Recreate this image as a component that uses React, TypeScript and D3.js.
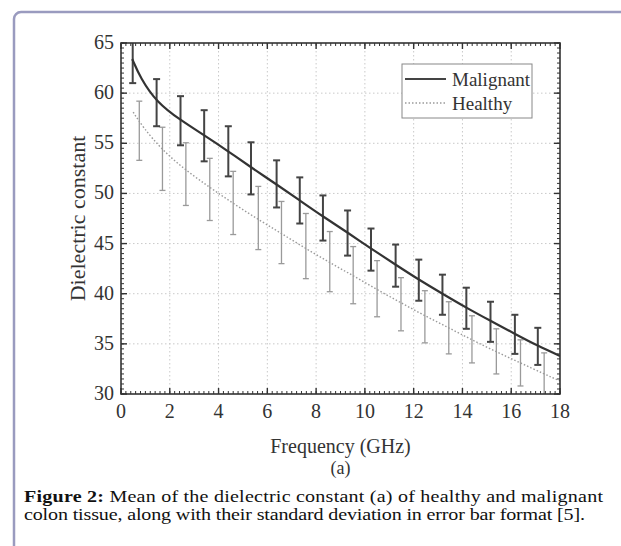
import React from "react";
import * as d3 from "d3";

const xTicks = [0, 2, 4, 6, 8, 10, 12, 14, 16, 18];
const yTicks = [30, 35, 40, 45, 50, 55, 60, 65];

const maligFreq = [0.48, 1.46, 2.44, 3.41, 4.4, 5.33, 6.38, 7.33, 8.28, 9.29, 10.25, 11.26, 12.21, 13.18, 14.16, 15.15, 16.15, 17.09];
const maligLow = [61.0, 56.7, 54.8, 53.2, 51.7, 49.9, 48.6, 47.0, 45.3, 43.8, 42.3, 40.7, 39.3, 37.9, 36.5, 35.2, 34.0, 32.9];
const maligHigh = [65.6, 61.4, 59.7, 58.3, 56.7, 55.1, 53.3, 51.6, 49.8, 48.3, 46.5, 44.9, 43.4, 41.9, 40.6, 39.2, 37.9, 36.6];

const maligCurveFreq = [0.46, 0.8, 1.46, 2.44, 3.41, 4.4, 5.33, 6.38, 7.33, 8.28, 9.29, 10.25, 11.26, 12.21, 13.18, 14.16, 15.15, 16.15, 17.09, 18];
const maligCurve = [63.4, 61.5, 59.1, 57.3, 55.8, 54.2, 52.6, 50.9, 49.3, 47.7, 46.1, 44.5, 42.9, 41.4, 40.0, 38.6, 37.3, 36.0, 34.8, 33.8];

const healthyFreq = [0.75, 1.7, 2.66, 3.64, 4.6, 5.63, 6.58, 7.58, 8.56, 9.52, 10.5, 11.48, 12.46, 13.44, 14.39, 15.39, 16.38, 17.35];
const healthyLow = [53.3, 50.3, 48.8, 47.3, 45.9, 44.4, 43.0, 41.5, 40.2, 39.0, 37.7, 36.3, 35.1, 34.0, 33.1, 32.0, 30.8, 29.9];
const healthyHigh = [59.2, 56.6, 55.05, 53.5, 52.2, 50.7, 49.2, 48.0, 46.2, 44.7, 43.3, 41.6, 40.3, 39.2, 37.8, 36.5, 35.4, 34.1];

const healthyCurveFreq = [0.5, 0.9, 1.7, 2.66, 3.64, 4.6, 5.63, 6.58, 7.58, 8.56, 9.52, 10.5, 11.48, 12.46, 13.44, 14.39, 15.39, 16.38, 17.35, 18];
const healthyCurve = [58.1, 56.6, 54.3, 52.3, 50.6, 49.0, 47.4, 46.0, 44.5, 43.1, 41.8, 40.4, 39.1, 37.8, 36.6, 35.4, 34.2, 33.1, 32.0, 31.3];

const seriesNames = ["Malignant", "Healthy"];
const xLabel = "Frequency (GHz)";
const yLabel = "Dielectric constant";
const subLabel = "(a)";
const captionBold = "Figure 2:";
const captionLine1 = " Mean of the dielectric constant (a) of healthy and malignant";
const captionLine2 = "colon tissue, along with their standard deviation in error bar format [5].";

const W = 621;
const H = 546;
const L = 121, R = 560, T = 43, B = 394;
const FONT = "'Liberation Serif', 'Times New Roman', serif";
const CAP_SX = 1.18;

export default function App() {
  const x = d3.scaleLinear().domain([0, 18]).range([L, R]);
  const y = d3.scaleLinear().domain([30, 65]).range([B, T]);

  const xMinor = d3.range(0, 18.0001, 0.2);
  const yMinor = d3.range(30, 65.0001, 0.5);

  const line = d3.line<[number, number]>().x((d) => x(d[0])).y((d) => y(d[1])).curve(d3.curveBasis);
  const maligPath = line(maligCurveFreq.map((f, i) => [f, maligCurve[i]] as [number, number])) || "";
  const healthyPath = line(healthyCurveFreq.map((f, i) => [f, healthyCurve[i]] as [number, number])) || "";

  const ink = "#333";

  return (
    <svg width={W} height={H} style={{ position: "absolute", left: 0, top: 0, background: "#fff" }}>
      <rect x={0} y={0} width={W} height={H} fill="#fff" />
      <rect x={14} y={12} width={W + 20} height={H + 20} rx={7} fill="none" stroke="#9a9bbf" strokeWidth={2.5} />
      <defs>
        <clipPath id="plotclip">
          <rect x={L} y={T} width={R - L} height={B - T} />
        </clipPath>
      </defs>

      {/* grid */}
      <g stroke="#c9c9c9" strokeWidth={1} strokeDasharray="1.5,2.5">
        {xTicks.slice(1, -1).map((t) => (
          <line key={"gx" + t} x1={x(t)} x2={x(t)} y1={T} y2={B} />
        ))}
        {yTicks.slice(1, -1).map((t) => (
          <line key={"gy" + t} x1={L} x2={R} y1={y(t)} y2={y(t)} />
        ))}
      </g>

      <g clipPath="url(#plotclip)">
        {/* healthy error bars */}
        <g stroke="#9a9a9a" strokeWidth={1.3} fill="none">
          {healthyFreq.map((f, i) => (
            <g key={"hb" + i}>
              <line x1={x(f)} x2={x(f)} y1={y(healthyLow[i])} y2={y(healthyHigh[i])} />
              <line x1={x(f) - 3} x2={x(f) + 3} y1={y(healthyLow[i])} y2={y(healthyLow[i])} />
              <line x1={x(f) - 3} x2={x(f) + 3} y1={y(healthyHigh[i])} y2={y(healthyHigh[i])} />
            </g>
          ))}
        </g>
        <path d={healthyPath} fill="none" stroke="#9a9a9a" strokeWidth={1.4} strokeDasharray="1.5,2" />

        {/* malignant error bars */}
        <g stroke="#444" strokeWidth={2} fill="none">
          {maligFreq.map((f, i) => (
            <g key={"mb" + i}>
              <line x1={x(f)} x2={x(f)} y1={y(maligLow[i])} y2={y(maligHigh[i])} />
              <line x1={x(f) - 3.5} x2={x(f) + 3.5} y1={y(maligLow[i])} y2={y(maligLow[i])} />
              <line x1={x(f) - 3.5} x2={x(f) + 3.5} y1={y(maligHigh[i])} y2={y(maligHigh[i])} />
            </g>
          ))}
        </g>
        <path d={maligPath} fill="none" stroke="#333" strokeWidth={2.2} />
      </g>

      {/* frame & ticks */}
      <g stroke={ink} strokeWidth={1}>
        {xMinor.map((t, i) => (
          <g key={"xm" + i}>
            <line x1={x(t)} x2={x(t)} y1={B} y2={B - 3} />
            <line x1={x(t)} x2={x(t)} y1={T} y2={T + 3} />
          </g>
        ))}
        {yMinor.map((t, i) => (
          <g key={"ym" + i}>
            <line x1={L} x2={L + 3} y1={y(t)} y2={y(t)} />
            <line x1={R} x2={R - 3} y1={y(t)} y2={y(t)} />
          </g>
        ))}
        {xTicks.map((t) => (
          <g key={"xM" + t}>
            <line x1={x(t)} x2={x(t)} y1={B} y2={B - 6} strokeWidth={1.4} />
            <line x1={x(t)} x2={x(t)} y1={T} y2={T + 6} strokeWidth={1.4} />
          </g>
        ))}
        {yTicks.map((t) => (
          <g key={"yM" + t}>
            <line x1={L} x2={L + 6} y1={y(t)} y2={y(t)} strokeWidth={1.4} />
            <line x1={R} x2={R - 6} y1={y(t)} y2={y(t)} strokeWidth={1.4} />
          </g>
        ))}
      </g>
      <rect x={L} y={T} width={R - L} height={B - T} fill="none" stroke={ink} strokeWidth={1.6} />

      {/* tick labels */}
      <g fontFamily={FONT} fontSize={20} fill={ink}>
        {xTicks.map((t) => (
          <text key={"xl" + t} x={x(t)} y={418} textAnchor="middle">{t}</text>
        ))}
        {yTicks.map((t) => (
          <text key={"yl" + t} x={114} y={y(t) + 6} textAnchor="end">{t}</text>
        ))}
        <text x={(L + R) / 2} y={453} textAnchor="middle">{xLabel}</text>
        <text x={(L + R) / 2} y={474} textAnchor="middle" fontSize={18}>{subLabel}</text>
        <text transform={`translate(85, ${(T + B) / 2}) rotate(-90)`} textAnchor="middle" fontSize={22}>{yLabel}</text>
      </g>

      {/* legend */}
      <g>
        <rect x={402} y={64} width={130} height={54} fill="#fff" stroke="#888" strokeWidth={1} />
        <line x1={405} x2={446} y1={79} y2={79} stroke="#444" strokeWidth={2} />
        <line x1={405} x2={446} y1={103} y2={103} stroke="#9a9a9a" strokeWidth={1.4} strokeDasharray="1.5,2" />
        <text x={452} y={86} fontFamily={FONT} fontSize={19} fill={ink}>{seriesNames[0]}</text>
        <text x={452} y={110} fontFamily={FONT} fontSize={19} fill={ink}>{seriesNames[1]}</text>
      </g>

      {/* caption */}
      <g fontFamily={FONT} fontSize={17} fill="#111" transform={`translate(24,0) scale(${CAP_SX},1)`}>
        <text x={0} y={502} textLength={579 / CAP_SX} lengthAdjust="spacing">
          <tspan fontWeight="bold">{captionBold}</tspan>
          <tspan>{captionLine1}</tspan>
        </text>
        <text x={0} y={520} textLength={561 / CAP_SX} lengthAdjust="spacing">{captionLine2}</text>
      </g>
    </svg>
  );
}
